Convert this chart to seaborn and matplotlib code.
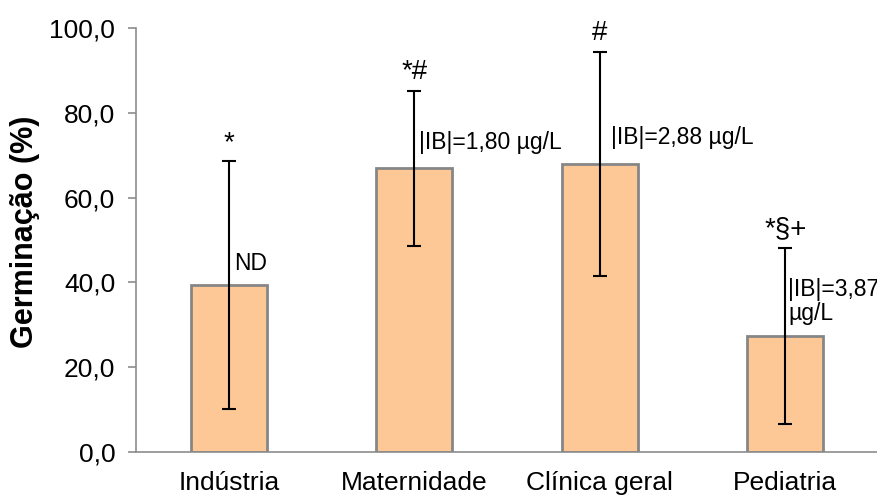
import pandas as pd
import numpy as np
import seaborn as sns
from matplotlib import pyplot as plt
from matplotlib.ticker import FuncFormatter

setores = ["Indústria", "Maternidade", "Clínica geral", "Pediatria"]
germinacao = [39.4, 67.0, 68.0, 27.4]
desvio = [29.2, 18.3, 26.5, 20.8]
sinais = ["*", "*#", "#", "*§+"]
notas = ["ND", "|IB|=1,80 µg/L", "|IB|=2,88 µg/L", "|IB|=3,87\nµg/L"]

df = pd.DataFrame({"setor": setores, "germ": germinacao, "sd": desvio})

sns.set_style("white")
plt.rcParams['font.family'] = ['Liberation Sans', 'DejaVu Sans']
plt.rcParams['text.color'] = 'black'
plt.rcParams['axes.labelcolor'] = 'black'

fig = plt.figure(figsize=(8.78, 4.95), dpi=100)
ax = fig.add_axes([0.155, 0.087, 0.845, 0.856])

sns.barplot(data=df, x="setor", y="germ", color="#FEC896", saturation=1,
            width=0.41, edgecolor="#868686", linewidth=2, errorbar=None, ax=ax)
ax.errorbar(np.arange(len(setores)), df["germ"], yerr=df["sd"], fmt="none",
            ecolor="black", elinewidth=1.5, capsize=4.7, capthick=1.5)

# marcas de significancia acima das barras de erro
for i, (m, s, txt) in enumerate(zip(germinacao, desvio, sinais)):
    ax.text(i, m + s + 2.7, txt, ha="center", va="baseline", fontsize=20)

# notas ao lado das barras de erro
ax.text(0.027, 44.4, notas[0], ha="left", va="center", fontsize=16.5)
ax.text(1.027, 73.1, notas[1], ha="left", va="center", fontsize=16.5)
ax.text(2.059, 74.3, notas[2], ha="left", va="center", fontsize=16.5)
ax.text(3.016, 35.6, notas[3], ha="left", va="center", fontsize=16.5, linespacing=1.05)

ax.set_ylim(0, 100)
ax.set_xlim(-0.5, 3.5)
ax.set_yticks(np.arange(0, 101, 20))
ax.yaxis.set_major_formatter(FuncFormatter(lambda v, p: f"{v:.1f}".replace(".", ",")))
ax.set_xlabel("")
ax.set_ylabel("Germinação (%)", fontsize=22, fontweight="bold")
ax.yaxis.set_label_coords(-0.13, 0.52)
ax.tick_params(axis="y", labelsize=19, left=True, length=6, width=1.2,
               color="#8c8c8c", pad=9, labelcolor="black")
ax.tick_params(axis="x", labelsize=19, bottom=False, pad=10, labelcolor="black")

for side in ["top", "right"]:
    ax.spines[side].set_visible(False)
for side in ["left", "bottom"]:
    ax.spines[side].set_color("#8c8c8c")
    ax.spines[side].set_linewidth(1.2)

plt.savefig("out.png", dpi=100)
